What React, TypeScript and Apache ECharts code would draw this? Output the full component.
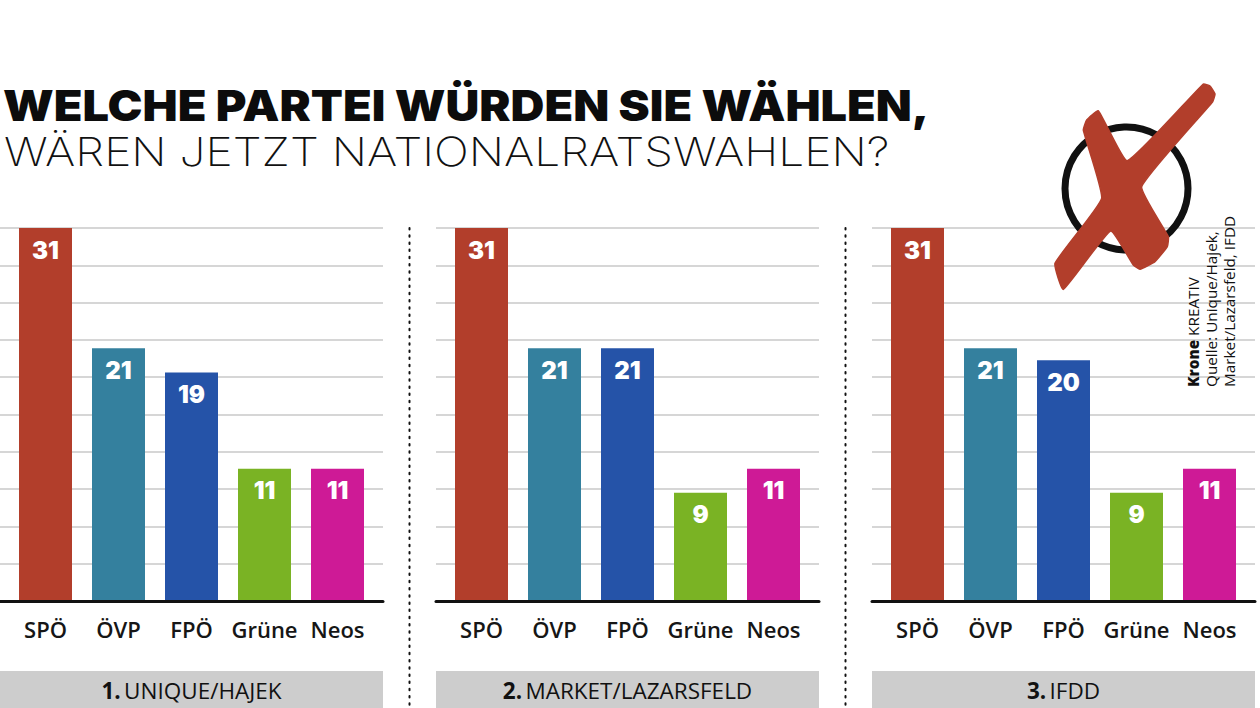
import React, { useEffect, useRef } from "react";
import * as echarts from "echarts";

const parties = ["SPÖ", "ÖVP", "FPÖ", "Grüne", "Neos"];
const uniqueHajek = [31, 21, 19, 11, 11];
const marketLazarsfeld = [31, 21, 21, 9, 11];
const ifdd = [31, 21, 20, 9, 11];
const partyColors = ["#B23E2B", "#34809E", "#2553A8", "#7AB324", "#CE1A96"];
const titleBold = "WELCHE PARTEI WÜRDEN SIE WÄHLEN,";
const titleLight = "WÄREN JETZT NATIONALRATSWAHLEN?";
const panelNames = ["1.|UNIQUE/HAJEK", "2.|MARKET/LAZARSFELD", "3.|IFDD"];
const creditLines = ["{b|Krone} KREATIV", "Quelle: Unique/Hajek,", "Market/Lazarsfeld, IFDD"];

const panelSeries = [uniqueHajek, marketLazarsfeld, ifdd];
const panelLeft = [0, 436, 872];
const panelWidth = 383;
const topY = 228;
const baseY = 601;
const axisMax = 31;
const gridStep = 3.1;
const labelFont = "'Open Sans', sans-serif";

const crossPts = [
  [175, 122], [262, 272], [490, 42], [510, 48], [525, 72], [518, 95], [305, 350], [385, 500],
  [382, 530], [345, 575], [300, 598], [280, 585], [212, 483], [70, 658], [45, 580], [185, 385],
  [130, 180], [140, 150],
].map(([x, y]) => [1040 + x / 3, 70 + y / 3]);

export default function App() {
  const ref = useRef<HTMLDivElement>(null);
  useEffect(() => {
    document.body.style.margin = "0";
    document.body.style.background = "#fff";
    const chart = echarts.init(ref.current!, undefined, { renderer: "svg" });
    const grid: any[] = [];
    const xAxis: any[] = [];
    const yAxis: any[] = [];
    const series: any[] = [];
    const graphic: any[] = [];

    panelSeries.forEach((values, i) => {
      const left = panelLeft[i];
      const height = baseY - topY;
      // backdrop grid: rules and baseline run wider than the bars
      grid.push({ left, top: topY, width: panelWidth, height });
      xAxis.push({
        gridIndex: i * 2, type: "value", min: 0, max: 1, z: 6,
        axisLine: { show: true, onZero: false, lineStyle: { color: "#111", width: 3 } },
        axisTick: { show: false }, axisLabel: { show: false }, splitLine: { show: false },
      });
      yAxis.push({
        gridIndex: i * 2, type: "value", min: 0, max: axisMax, interval: gridStep,
        axisLine: { show: false }, axisTick: { show: false }, axisLabel: { show: false },
        splitLine: { show: true, lineStyle: { color: "#c9c9c9", width: 1.5 } },
      });
      // bar grid
      grid.push({ left: left + 9, top: topY, width: 365, height });
      xAxis.push({
        gridIndex: i * 2 + 1, type: "category", data: parties,
        axisLine: { show: false }, axisTick: { show: false },
        axisLabel: { margin: 17, color: "#161616", fontFamily: labelFont, fontWeight: 600, fontSize: 22, interval: 0 },
      });
      yAxis.push({ gridIndex: i * 2 + 1, type: "value", min: 0, max: axisMax, show: false });
      series.push({
        type: "bar",
        xAxisIndex: i * 2 + 1,
        yAxisIndex: i * 2 + 1,
        barWidth: 53,
        data: values.map((v, k) => ({ value: v, itemStyle: { color: partyColors[k] } })),
        label: {
          show: true, position: "insideTop", distance: 10, color: "#fff",
          fontFamily: "Inter, sans-serif", fontWeight: 900, fontSize: 24,
        },
      });

      const [num, name] = panelNames[i].split("|");
      graphic.push({ type: "rect", silent: true, z: 1, shape: { x: left, y: 671, width: panelWidth, height: 37 }, style: { fill: "#cdcdcd" } });
      graphic.push({
        type: "text", silent: true, z: 2, x: left + panelWidth / 2, y: 690.5,
        style: {
          text: `{b|${num}} {r|${name}}`, align: "center", verticalAlign: "middle",
          rich: {
            b: { fontFamily: labelFont, fontWeight: 700, fontSize: 22.5, fill: "#111", color: "#111" },
            r: { fontFamily: labelFont, fontWeight: 400, fontSize: 22.5, fill: "#111", color: "#111" },
          },
        },
      });
    });

    [409.5, 845.5].forEach((x) => {
      graphic.push({
        type: "line", silent: true, z: 1, shape: { x1: x, y1: 228, x2: x, y2: 708 },
        style: { stroke: "#111", lineWidth: 2, lineDash: [1.5, 5.7], lineCap: "round" },
      });
    });

    graphic.push({
      type: "text", silent: true, z: 20, x: 3, y: 127, scaleX: 1.09,
      style: { text: titleBold, font: "900 43px Inter, sans-serif", fill: "#0c0c0c", align: "left", verticalAlign: "bottom" },
    });
    graphic.push({
      type: "text", silent: true, z: 20, x: 4, y: 171, scaleX: 1.153,
      style: { text: titleLight, font: "200 40px Inter, sans-serif", fill: "#111", align: "left", verticalAlign: "bottom" },
    });
    graphic.push({
      type: "circle", silent: true, z: 30, shape: { cx: 1126.5, cy: 188.5, r: 61.5 },
      style: { fill: "transparent", stroke: "#111", lineWidth: 7 },
    });
    graphic.push({
      type: "polygon", silent: true, z: 31, shape: { points: crossPts, smooth: 0.12 },
      style: { fill: "#B23E2B", stroke: "#B23E2B", lineWidth: 1.5, lineJoin: "round" },
    });
    creditLines.forEach((t, i) => {
      graphic.push({
        type: "text", silent: true, z: 32, x: 1185 + i * 18.3, y: 387, rotation: Math.PI / 2,
        style: {
          text: t, align: "left", verticalAlign: "top",
          fontFamily: labelFont, fontSize: 15.3, fill: "#111",
          rich: { b: { fontFamily: labelFont, fontWeight: 800, fontSize: 15.3, fill: "#111", color: "#111" } },
        },
      });
    });

    chart.setOption({ animation: false, backgroundColor: "#fff", grid, xAxis, yAxis, series, graphic });
    return () => chart.dispose();
  }, []);
  return <div ref={ref} style={{ width: 1260, height: 708 }} />;
}
